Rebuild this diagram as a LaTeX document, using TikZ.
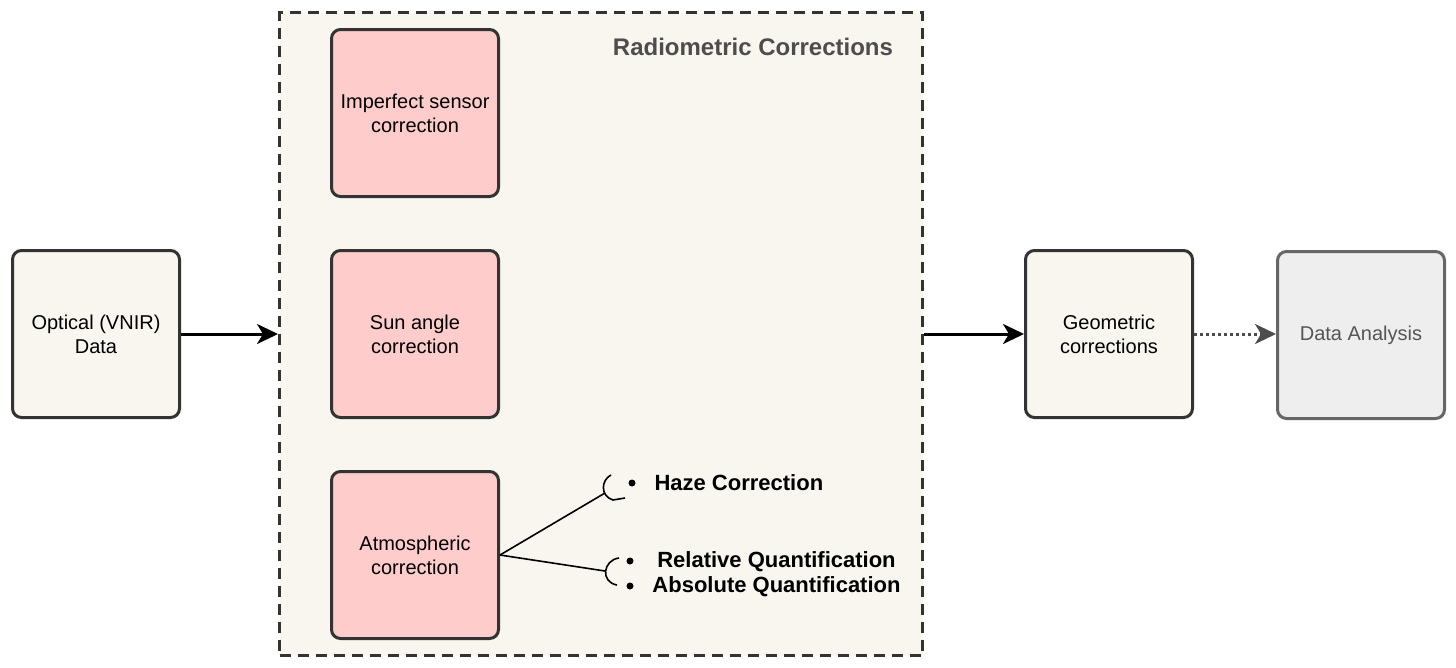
\documentclass[tikz,border=0pt]{standalone}
\usepackage{fontspec}
\setmainfont{Liberation Sans}
\usetikzlibrary{arrows.meta}
\definecolor{edge}{HTML}{333333}
\definecolor{cream}{HTML}{F8F6EE}
\definecolor{pinkbox}{HTML}{FFCCCC}
\definecolor{greybox}{HTML}{EEEEEE}
\definecolor{greyedge}{HTML}{666666}
\definecolor{greytext}{HTML}{555555}
\definecolor{titlegrey}{HTML}{4D4D4D}
\begin{document}
\begin{tikzpicture}[x=1pt,y=-1pt,
    box/.style={draw=edge,line width=3pt,rounded corners=9pt,fill=cream,
      minimum width=167pt,minimum height=167pt,align=center,
      font=\fontsize{20}{24}\selectfont},
    corr/.style={box,fill=pinkbox},
    flow/.style={line width=3pt,-{Stealth[length=21pt,width=20pt,inset=6pt]}},
    item/.style={font=\fontsize{22}{25}\selectfont\bfseries}]
  \useasboundingbox (0,0) rectangle (1456,667);
  % container
  \node[draw=edge,fill=cream,line width=3pt,dash pattern=on 11pt off 7pt,
    minimum width=643pt,minimum height=643pt] (radio) at (601,334) {};
  \node[text=titlegrey,font=\fontsize{24}{28}\selectfont\bfseries] (title) at (753,47) {Radiometric Corrections};
  % boxes
  \node[box] (optical) at (96,334) {Optical (VNIR)\\Data};
  \node[corr] (sensor) at (415,113) {Imperfect sensor\\correction};
  \node[corr] (sun) at (415,334) {Sun angle\\correction};
  \node[corr] (atmo) at (415,555) {Atmospheric\\correction};
  \node[box] (geo) at (1109,334) {Geometric\\corrections};
  \node[box,fill=greybox,draw=greyedge,text=greytext] (analysis) at (1361,335) {Data Analysis};
  % arrows
  \draw[flow] (optical) -- (radio);
  \draw[flow] (radio) -- (geo);
  \draw[flow,draw=titlegrey,dash pattern=on 3pt off 3pt] (geo) -- (analysis.west |- geo);
  % annotations
  \coordinate (hz) at (605,493);
  \coordinate (qt) at (605,571);
  \draw[line width=1.6pt] (atmo.east) -- (hz);
  \draw[line width=1.6pt] (atmo.east) -- (qt);
  \draw[line width=1.6pt] (611,475) .. controls (601,480) and (600,496) .. (613,500) -- (625,498);
  \draw[line width=1.6pt] (619,558) .. controls (603,560) and (600,582) .. (617,585);
  \fill (632,483) circle (3.5pt) node[item,right=19pt] (haze) {Haze Correction};
  \fill (630,561) circle (3.5pt);
  \fill (630,586) circle (3.5pt);
  \node[item] (rel) at (776.5,562) {Relative Quantification};
  \node[item] (abs) at (776.5,587) {Absolute Quantification};
\end{tikzpicture}
\end{document}
